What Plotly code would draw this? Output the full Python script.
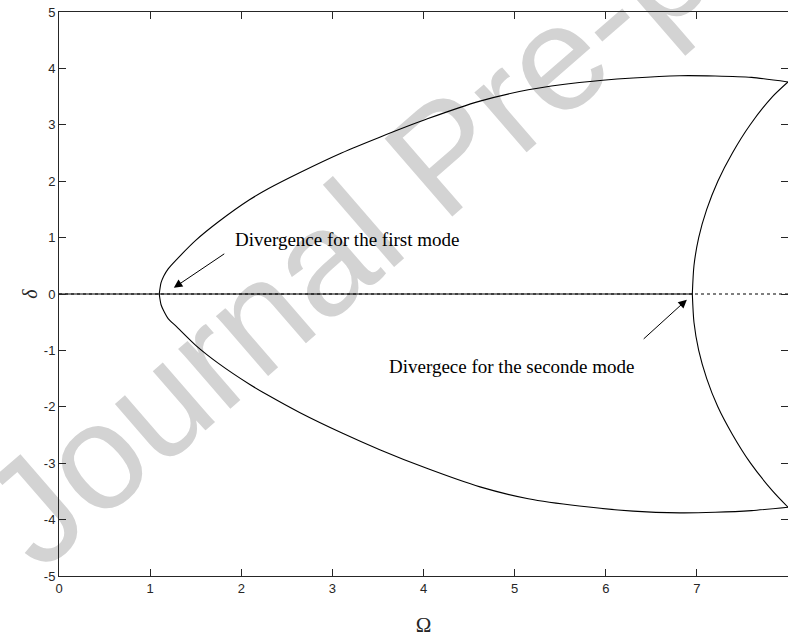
import plotly.graph_objects as go

# First mode branch (upper and lower)
om1_up = [1.10, 1.12, 1.15, 1.20, 1.29, 1.50, 1.75, 2.09, 2.30, 2.64, 3.10, 3.52, 4.05, 4.62, 5.15, 5.71, 6.30, 6.81, 7.20, 7.60, 8.00]
d1_up = [0.00, 0.20, 0.32, 0.45, 0.61, 0.95, 1.28, 1.67, 1.87, 2.15, 2.50, 2.78, 3.11, 3.42, 3.62, 3.75, 3.83, 3.87, 3.865, 3.84, 3.76]
om1_lo = [1.10, 1.12, 1.15, 1.20, 1.29, 1.50, 1.75, 2.09, 2.30, 2.64, 3.10, 3.52, 4.05, 4.62, 5.15, 5.71, 6.30, 6.81, 7.20, 7.60, 8.00]
d1_lo = [0.00, -0.19, -0.30, -0.44, -0.58, -0.91, -1.23, -1.60, -1.80, -2.10, -2.46, -2.76, -3.10, -3.42, -3.63, -3.76, -3.85, -3.88, -3.87, -3.84, -3.78]

# Second mode branch (upper and lower)
om2_up = [6.95, 6.968, 7.02, 7.108, 7.23, 7.39, 7.585, 7.83, 8.00]
d2_up = [0.00, 0.50, 1.00, 1.50, 2.00, 2.50, 3.00, 3.50, 3.76]
om2_lo = [6.95, 6.968, 7.02, 7.108, 7.23, 7.39, 7.585, 7.83, 8.00]
d2_lo = [0.00, -0.50, -1.00, -1.50, -2.00, -2.49, -2.99, -3.49, -3.78]

# Trivial branch delta = 0
om0_solid = [0.0, 6.95]
om0_dot = [0.0, 8.0]
d0 = [0.0, 0.0]

x_ticks = [0, 1, 2, 3, 4, 5, 6, 7, 8]
y_ticks = [-5, -4, -3, -2, -1, 0, 1, 2, 3, 4, 5]
y_ticktext = ["-5", "-4", "-3", "-2", "-1", "0", "1", "2", "3", "4", "5"]

fig = go.Figure()
fig.add_trace(go.Scatter(x=om0_dot, y=d0, mode="lines", line=dict(color="black", width=1.2, dash="dot")))
fig.add_trace(go.Scatter(x=om0_solid, y=d0, mode="lines", line=dict(color="black", width=1.2)))
for xs, ys in [(om1_up, d1_up), (om1_lo, d1_lo), (om2_up, d2_up), (om2_lo, d2_lo)]:
    fig.add_trace(go.Scatter(x=xs, y=ys, mode="lines",
                             line=dict(color="black", width=1.1, shape="spline", smoothing=0.7)))

ann_font = dict(family="Liberation Serif, Times New Roman, serif", size=19, color="black")
fig.add_annotation(x=1.26, y=0.11, ax=1.83, ay=0.73, xref="x", yref="y", axref="x", ayref="y",
                   text="", showarrow=True, arrowhead=2, arrowsize=1.7, arrowwidth=1, arrowcolor="black")
fig.add_annotation(x=1.91, y=0.96, xref="x", yref="y", text="Divergence for the first mode",
                   showarrow=False, xanchor="left", yanchor="middle", font=ann_font)
fig.add_annotation(x=6.89, y=-0.1, ax=6.40, ay=-0.82, xref="x", yref="y", axref="x", ayref="y",
                   text="", showarrow=True, arrowhead=2, arrowsize=1.7, arrowwidth=1, arrowcolor="black")
fig.add_annotation(x=3.6, y=-1.29, xref="x", yref="y", text="Divergece for the seconde mode",
                   showarrow=False, xanchor="left", yanchor="middle", font=ann_font)

# watermark
fig.add_shape(type="line", xref="paper", yref="paper", x0=0.10, y0=0.30, x1=0.93, y1=1.23,
              line=dict(color="rgba(0,0,0,0)", width=0), layer="below",
              label=dict(text="Journal Pre-proof", textposition="middle", yanchor="middle",
                         font=dict(family="Liberation Sans, Arial", size=150, color="#d3d3d3")))

axis_common = dict(showline=True, linecolor="#262626", linewidth=1, mirror="ticks", ticks="inside",
                   ticklen=7, tickcolor="#262626", showgrid=False, zeroline=False,
                   tickfont=dict(family="Liberation Sans, Arial", size=13, color="#262626"))
fig.update_xaxes(range=[0, 8], tickvals=x_ticks, **axis_common,
                 title=dict(text="Ω", font=dict(family="Liberation Serif, Times New Roman, serif", size=21, color="#262626"), standoff=22))
fig.update_yaxes(range=[-5, 5], tickvals=y_ticks, ticktext=y_ticktext, **axis_common,
                 title=dict(text="<i>δ</i>", font=dict(family="Liberation Serif, Times New Roman, serif", size=20, color="#262626"), standoff=0))
fig.update_layout(width=788, height=639, margin=dict(l=59, r=0, t=12, b=63),
                  paper_bgcolor="white", plot_bgcolor="rgba(0,0,0,0)", showlegend=False)
fig.write_html("out.html")
